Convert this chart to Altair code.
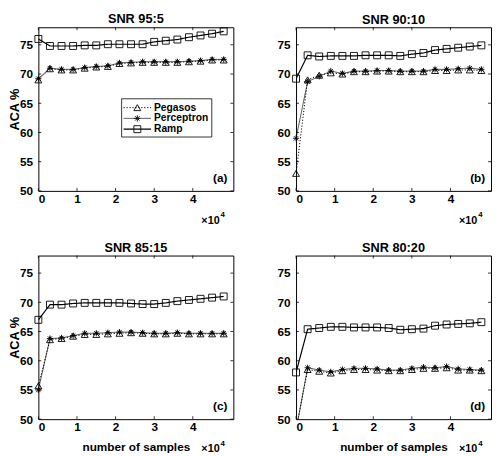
import altair as alt
import pandas as pd

# ---------------- data ----------------
samples = [0, 0.3, 0.6, 0.9, 1.2, 1.5, 1.8, 2.1, 2.4, 2.7, 3.0, 3.3, 3.6, 3.9, 4.2, 4.5, 4.8]  # x 10^4
series_names = ["Pegasos", "Perceptron", "Ramp"]
panel_titles = ["SNR 95:5", "SNR 90:10", "SNR 85:15", "SNR 80:20"]
panel_tags = ["(a)", "(b)", "(c)", "(d)"]
y_ticks = [50, 55, 60, 65, 70, 75]
x_ticks = [0, 1, 2, 3, 4]

peg_a = [69.0, 70.9, 70.7, 70.7, 71.0, 71.2, 71.3, 71.8, 71.9, 72.0, 72.0, 72.0, 72.0, 72.1, 72.2, 72.4, 72.4]
per_a = [69.2, 71.0, 70.8, 70.8, 71.1, 71.3, 71.4, 71.9, 72.0, 72.1, 72.1, 72.1, 72.1, 72.2, 72.3, 72.5, 72.5]
ramp_a = [76.0, 74.8, 74.8, 74.8, 74.9, 74.9, 75.1, 75.1, 75.1, 75.1, 75.5, 75.7, 75.9, 76.3, 76.6, 76.9, 77.3]

peg_b = [53.0, 69.0, 69.8, 70.2, 70.0, 70.4, 70.4, 70.5, 70.5, 70.4, 70.4, 70.4, 70.6, 70.6, 70.7, 70.7, 70.6]
per_b = [59.0, 68.7, 69.6, 70.5, 70.1, 70.5, 70.5, 70.6, 70.6, 70.5, 70.5, 70.5, 70.8, 70.8, 70.9, 71.0, 70.8]
ramp_b = [69.2, 73.2, 73.0, 73.1, 73.1, 73.1, 73.2, 73.2, 73.2, 73.1, 73.4, 73.6, 74.1, 74.3, 74.5, 74.7, 74.9]

peg_c = [55.7, 63.6, 63.8, 64.2, 64.5, 64.5, 64.6, 64.7, 64.8, 64.7, 64.6, 64.6, 64.7, 64.6, 64.6, 64.6, 64.6]
per_c = [55.0, 63.8, 63.9, 64.3, 64.7, 64.7, 64.8, 64.9, 64.9, 64.8, 64.7, 64.7, 64.8, 64.7, 64.7, 64.7, 64.7]
ramp_c = [67.0, 69.6, 69.6, 69.8, 69.9, 69.9, 69.9, 69.9, 69.8, 69.7, 69.7, 69.9, 70.2, 70.4, 70.6, 70.8, 71.0]

peg_d = [48.3, 58.5, 58.2, 57.9, 58.3, 58.5, 58.5, 58.4, 58.3, 58.3, 58.5, 58.7, 58.7, 58.8, 58.4, 58.4, 58.3]
per_d = [48.0, 58.8, 58.4, 58.1, 58.5, 58.7, 58.7, 58.6, 58.4, 58.4, 58.7, 58.9, 58.8, 59.0, 58.6, 58.5, 58.4]
ramp_d = [58.0, 65.4, 65.6, 65.8, 65.8, 65.7, 65.7, 65.7, 65.6, 65.3, 65.4, 65.5, 66.0, 66.2, 66.3, 66.4, 66.6]

panel_data = [
    [peg_a, per_a, ramp_a],
    [peg_b, per_b, ramp_b],
    [peg_c, per_c, ramp_c],
    [peg_d, per_d, ramp_d],
]

# ---------------- styles ----------------
FONT = "Liberation Sans"
W, H = 199, 167
TICK = 3
Y_MIN, Y_MAX = 50, 78
ASTERISK = "M0,-1L0,1M-1,0L1,0M-0.7,-0.7L0.7,0.7M-0.7,0.7L0.7,-0.7"
styles = {
    "Pegasos": dict(dash=[1.2, 1.8], width=1.0, shape="triangle-up", size=50),
    "Perceptron": dict(dash=[1, 0], width=0.7, shape=ASTERISK, size=40),
    "Ramp": dict(dash=[1, 0], width=1.2, shape="square", size=50),
}


def make_panel(i, show_ytitle, show_xtitle, with_legend):
    rows = []
    for name, vals in zip(series_names, panel_data[i]):
        for xv, yv in zip(samples, vals):
            rows.append({"x": xv, "y": yv, "series": name})
    df = pd.DataFrame(rows)

    x_enc = alt.X(
        "x:Q",
        scale=alt.Scale(domain=[0, 5.05], nice=False, zero=False),
        axis=alt.Axis(
            values=x_ticks, format="d", ticks=False, domain=False, grid=False,
            labelPadding=3, labelFontSize=12, labelFontWeight="bold",
            title="number of samples" if show_xtitle else None,
            titleFontSize=12, titleFontWeight="bold", titlePadding=9,
        ),
    )
    y_enc = alt.Y(
        "y:Q",
        scale=alt.Scale(domain=[Y_MIN, Y_MAX], nice=False, zero=False),
        axis=alt.Axis(
            values=y_ticks, ticks=False, domain=False, grid=False,
            labelPadding=6, labelFontSize=12, labelFontWeight="bold",
            title="ACA %" if show_ytitle else None,
            titleFontSize=13, titleFontWeight="bold", titlePadding=-2,
        ),
    )

    layers = []
    base = alt.Chart(df)
    for name in series_names:
        st = styles[name]
        sub = base.transform_filter(alt.datum.series == name)
        layers.append(
            sub.mark_line(color="black", strokeWidth=st["width"], strokeDash=st["dash"], clip=True)
            .encode(x=x_enc, y=y_enc)
        )
        layers.append(
            sub.transform_filter(alt.datum.y >= Y_MIN)
            .mark_point(shape=st["shape"], size=st["size"], filled=False, color="black",
                        strokeWidth=0.9, opacity=1)
            .encode(x=x_enc, y=y_enc)
        )

    # inward ticks on all four sides
    ydf = pd.DataFrame({"y": y_ticks})
    xdf = pd.DataFrame({"x": x_ticks})
    layers.append(alt.Chart(ydf).mark_rule(color="black", strokeWidth=0.8)
                  .encode(y=y_enc, x=alt.value(0), x2=alt.value(TICK)))
    layers.append(alt.Chart(ydf).mark_rule(color="black", strokeWidth=0.8)
                  .encode(y=y_enc, x=alt.value(W - TICK), x2=alt.value(W)))
    layers.append(alt.Chart(xdf).mark_rule(color="black", strokeWidth=0.8)
                  .encode(x=x_enc, y=alt.value(H - TICK), y2=alt.value(H)))
    layers.append(alt.Chart(xdf).mark_rule(color="black", strokeWidth=0.8)
                  .encode(x=x_enc, y=alt.value(0), y2=alt.value(TICK)))

    # panel tag
    layers.append(
        alt.Chart(pd.DataFrame({"t": [panel_tags[i]]}))
        .mark_text(font=FONT, fontSize=12, fontWeight="bold", align="right", baseline="middle", color="black")
        .encode(x=alt.value(W - 6), y=alt.value(H - 13), text="t:N")
    )
    # x10^4 multiplier
    layers.append(
        alt.Chart(pd.DataFrame({"t": ["\u00d710"]}))
        .mark_text(font=FONT, fontSize=11, fontWeight="bold", align="right", baseline="middle", color="black")
        .encode(x=alt.value(W - 14), y=alt.value(H + 31), text="t:N")
    )
    layers.append(
        alt.Chart(pd.DataFrame({"t": ["4"]}))
        .mark_text(font=FONT, fontSize=8, fontWeight="bold", align="left", baseline="middle", color="black")
        .encode(x=alt.value(W - 13), y=alt.value(H + 25), text="t:N")
    )

    if with_legend:
        layers.append(
            alt.Chart(pd.DataFrame({"k": [0]}))
            .mark_rect(fill="white", stroke="black", strokeWidth=0.8)
            .encode(x=alt.value(85), x2=alt.value(177), y=alt.value(73), y2=alt.value(112))
        )
        for j, name in enumerate(series_names):
            st = styles[name]
            yy = 82 + 11 * j
            one = alt.Chart(pd.DataFrame({"name": [name]}))
            layers.append(one.mark_rule(color="black", strokeWidth=st["width"], strokeDash=st["dash"])
                          .encode(x=alt.value(87), x2=alt.value(115), y=alt.value(yy)))
            layers.append(one.mark_point(shape=st["shape"], size=st["size"], filled=False, color="black",
                                         strokeWidth=0.9, opacity=1)
                          .encode(x=alt.value(101), y=alt.value(yy)))
            layers.append(one.mark_text(font=FONT, fontSize=10.5, fontWeight="bold", align="left",
                                        baseline="middle", color="black")
                          .encode(x=alt.value(118), y=alt.value(yy), text="name:N"))

    return alt.layer(*layers).properties(
        width=W, height=H,
        title=alt.TitleParams(panel_titles[i], fontSize=13, fontWeight="bold", font=FONT,
                              offset=0, color="black"),
    )


top = alt.hconcat(make_panel(0, True, False, True), make_panel(1, False, False, False), spacing=43)
bottom = alt.hconcat(make_panel(2, True, True, False), make_panel(3, False, True, False), spacing=43)

chart = (
    alt.vconcat(top, bottom, spacing=15)
    .properties(padding=0, background="white")
    .configure_view(stroke="black", strokeWidth=1)
    .configure_axis(labelFont=FONT, titleFont=FONT, labelColor="black", titleColor="black")
    .configure_title(font=FONT, color="black")
)

chart.save("out.html", embed_options={"renderer": "svg", "actions": False})
